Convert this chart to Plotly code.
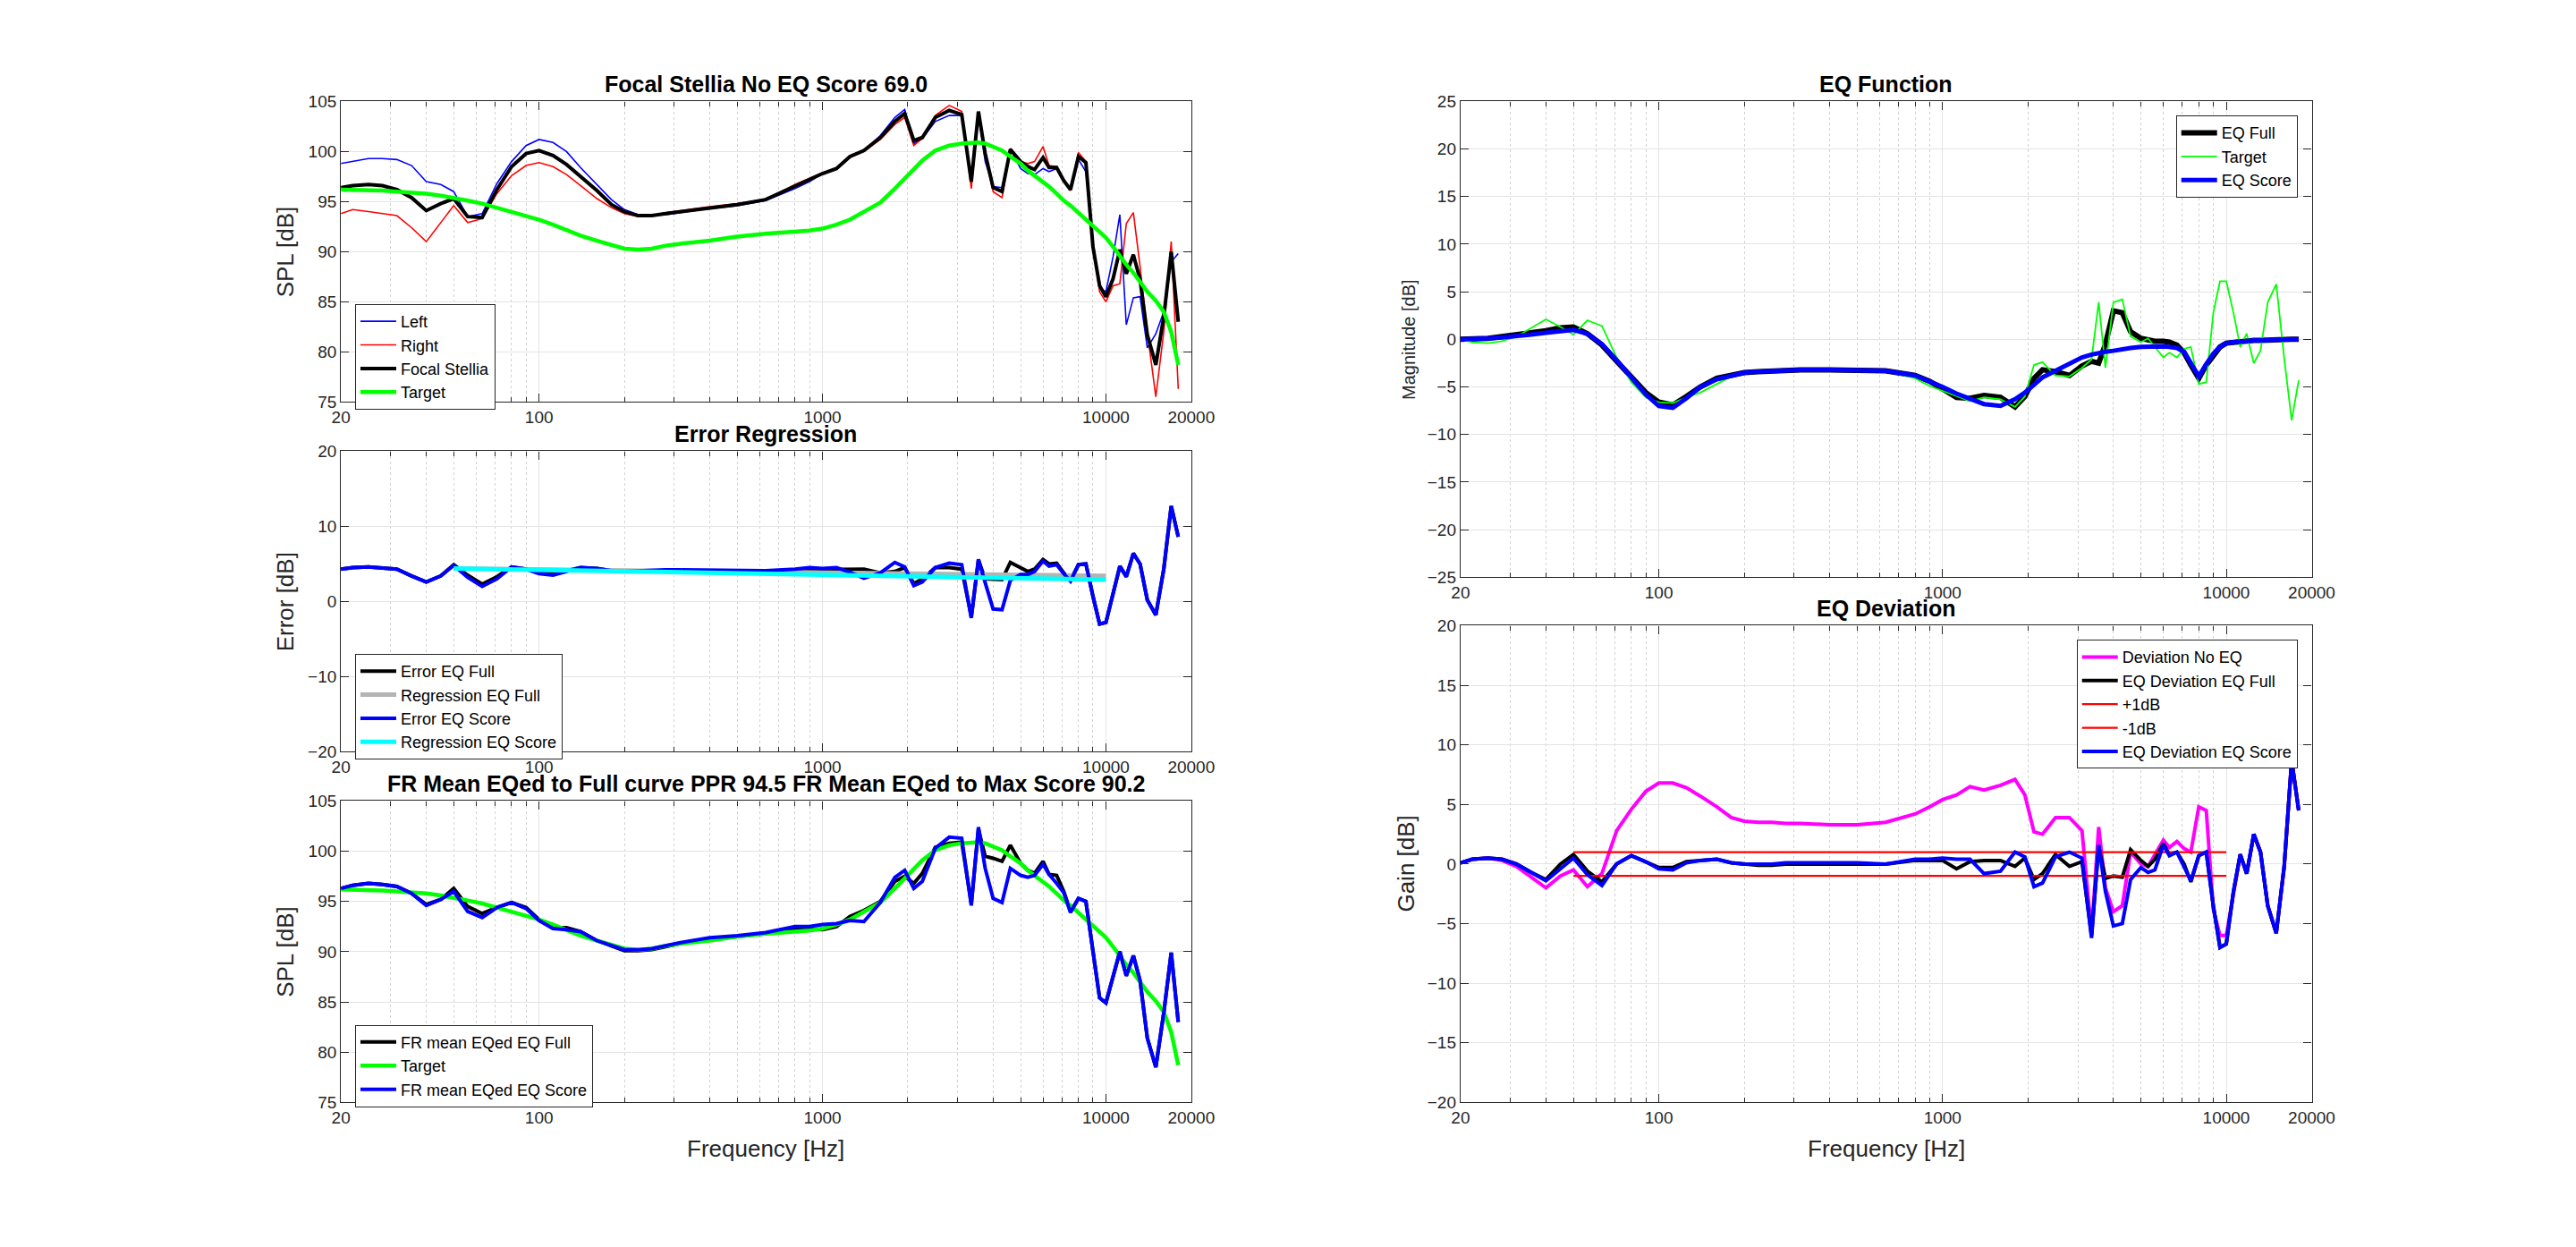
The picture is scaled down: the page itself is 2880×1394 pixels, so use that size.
import math
import plotly.graph_objects as go

# ---------------- data ----------------
FREQ = [20, 22, 25, 28, 31.5, 35.5, 40, 45, 50, 56,
        63, 71, 80, 90, 100, 112, 125, 140, 160, 180,
        200, 224, 250, 280, 315, 400, 500, 630, 800, 900,
        1000, 1120, 1250, 1400, 1600, 1800, 1950, 2100, 2250, 2500,
        2800, 3100, 3350, 3550, 3750, 4000, 4300, 4600, 5000, 5300,
        5600, 6000, 6300, 6700, 7100, 7500, 8000, 8500, 9000, 9500,
        10000, 10600, 11200, 11800, 12500, 13200, 14000, 15000, 16000, 17000,
        18000]

SPL_LEFT = [98.8, 99.0, 99.3, 99.3, 99.2, 98.6, 97.0, 96.7, 96.0, 93.5,
            93.8, 96.8, 99.0, 100.6, 101.2, 100.9, 100.0, 98.4, 96.7, 95.2,
            94.2, 93.7, 93.6, 93.7, 93.9, 94.3, 94.6, 95.1, 96.3, 97.0,
            97.8, 98.3, 99.4, 100.1, 101.6, 103.4, 104.2, 100.8, 101.3, 103.0,
            103.6, 103.6, 97.0, 103.8, 99.0, 96.5, 96.4, 100.3, 98.3, 97.8,
            97.7, 98.3, 98.0, 98.3, 97.0, 96.3, 99.2, 98.0, 91.0, 86.4,
            86.0, 89.5, 93.7, 82.7, 85.4, 85.5, 80.4, 81.8, 84.0, 89.0,
            89.8]

SPL_RIGHT = [93.8, 94.2, 94.0, 93.8, 93.6, 92.4, 91.0, 92.9, 94.6, 92.9,
             93.3, 95.8, 97.6, 98.6, 98.9, 98.5, 97.7, 96.6, 95.3, 94.4,
             93.8, 93.5, 93.6, 93.9, 94.1, 94.5, 94.8, 95.2, 96.7, 97.3,
             97.9, 98.3, 99.4, 100.0, 101.2, 102.7, 103.4, 100.6, 101.3, 103.6,
             104.6, 104.0, 96.3, 103.6, 99.5, 96.0, 95.4, 100.3, 99.0, 98.8,
             99.0, 100.5, 98.6, 98.5, 97.3, 96.1, 99.9, 99.0, 90.5, 86.0,
             85.0, 86.6, 86.8, 92.8, 93.9, 88.5, 82.0, 75.5, 82.0, 91.0,
             76.3]

SPL_MEAN = [96.4, 96.6, 96.7, 96.6, 96.2, 95.4, 94.1, 94.8, 95.3, 93.5,
            93.4, 96.2, 98.5, 99.8, 100.1, 99.6, 98.7, 97.5, 96.1, 94.7,
            94.0, 93.6, 93.6, 93.8, 94.0, 94.4, 94.7, 95.2, 96.5, 97.2,
            97.8, 98.3, 99.5, 100.1, 101.4, 103.0, 103.8, 101.1, 101.4, 103.4,
            104.1, 103.7, 97.0, 104.0, 99.8, 96.4, 96.0, 100.2, 99.0, 98.5,
            98.2, 99.4, 98.4, 98.4, 97.1, 96.2, 99.5, 98.9, 90.5, 86.6,
            85.5, 87.3, 90.2, 87.8, 89.7, 87.2, 81.7, 78.7, 83.5, 90.0,
            83.0]

TARGET = [96.2, 96.2, 96.2, 96.1, 96.0, 95.9, 95.8, 95.6, 95.4, 95.1,
          94.8, 94.4, 94.0, 93.6, 93.2, 92.7, 92.2, 91.6, 91.1, 90.7,
          90.3, 90.2, 90.3, 90.6, 90.8, 91.1, 91.5, 91.8, 92.0, 92.1,
          92.3, 92.7, 93.2, 94.0, 94.9, 96.3, 97.3, 98.3, 99.1, 100.1,
          100.6, 100.8, 100.9, 100.9, 100.8, 100.5, 100.1, 99.5, 98.8, 98.1,
          97.6, 97.0, 96.5, 95.8, 95.1, 94.6, 93.9, 93.2, 92.6, 92.0,
          91.4, 90.5, 89.5, 88.7, 87.9, 86.9, 86.0, 85.1, 84.0, 82.0,
          78.7]

ERR_FULL = [4.3, 4.5, 4.6, 4.5, 4.3, 3.4, 2.6, 3.4, 4.9, 3.5,
            2.3, 3.3, 4.6, 4.3, 3.9, 3.7, 4.1, 4.5, 4.4, 4.1,
            4.0, 4.0, 4.0, 4.1, 4.1, 4.1, 4.1, 4.0, 4.2, 4.2,
            4.2, 4.2, 4.2, 4.3, 3.8, 4.0, 4.5, 2.4, 3.0, 4.5,
            4.5, 4.3, -2.0, 5.5, 3.0, 2.9, 2.9, 5.2, 4.5, 4.0,
            4.3, 5.6, 5.0, 5.1, 3.8, 2.8, 4.9, 5.0, 0.7, -3.0,
            -2.8, 1.1, 4.7, 3.3, 6.4, 5.0, 0.2, -1.8, 4.3, 12.7,
            8.6]

ERR_SCORE = [4.3, 4.5, 4.6, 4.5, 4.3, 3.4, 2.6, 3.4, 4.8, 3.2,
             2.0, 3.0, 4.6, 4.3, 3.7, 3.5, 4.0, 4.5, 4.4, 4.1,
             4.0, 4.1, 4.1, 4.2, 4.2, 4.2, 4.2, 4.1, 4.3, 4.5,
             4.4, 4.5, 3.9, 3.1, 3.8, 5.2, 4.6, 2.1, 2.6, 4.5,
             5.1, 4.9, -2.2, 5.6, 2.5, -1.0, -1.1, 2.8, 3.6, 3.6,
             4.0, 5.4, 4.7, 4.9, 3.7, 2.7, 4.9, 5.0, 0.7, -3.0,
             -2.8, 1.1, 4.7, 3.3, 6.4, 5.0, 0.2, -1.8, 4.3, 12.7,
             8.6]

REG_FREQ = [50, 10000]
REG_FULL = [4.4, 3.4]
REG_SCORE = [4.4, 2.9]

FR_EQ_FULL = [96.3, 96.6, 96.8, 96.7, 96.5, 95.8, 94.7, 95.2, 96.3, 94.5,
              93.8, 94.4, 94.9, 94.4, 93.2, 92.4, 92.4, 92.0, 91.1, 90.6,
              90.1, 90.1, 90.2, 90.5, 90.8, 91.3, 91.5, 91.8, 92.3, 92.3,
              92.2, 92.5, 93.5, 94.1, 95.0, 97.0, 97.5, 96.8, 97.8, 100.4,
              100.8, 100.9, 94.8, 102.2, 99.5, 99.3, 99.0, 100.6, 98.8, 98.1,
              97.8, 99.0, 97.7, 97.6, 96.0, 94.0, 95.3, 95.0, 90.2, 85.4,
              84.9, 87.4, 90.0, 87.6, 89.6, 87.1, 81.4, 78.5, 83.9, 89.9,
              83.0]

FR_EQ_SCORE = [96.3, 96.6, 96.8, 96.7, 96.5, 95.8, 94.6, 95.2, 96.0, 94.0,
               93.4, 94.4, 94.9, 94.3, 93.1, 92.3, 92.2, 92.0, 91.1, 90.6,
               90.2, 90.2, 90.3, 90.6, 90.9, 91.4, 91.6, 91.9, 92.5, 92.5,
               92.7, 92.8, 93.1, 93.0, 94.9, 97.4, 98.1, 96.3, 97.0, 100.3,
               101.4, 101.3, 94.6, 102.4, 98.3, 95.3, 94.9, 98.3, 97.6, 97.4,
               97.6, 98.7, 97.7, 96.8, 95.9, 93.9, 95.3, 95.0, 90.2, 85.4,
               84.9, 87.4, 90.0, 87.6, 89.6, 87.1, 81.4, 78.5, 83.9, 89.9,
               83.0]

EQ_FULL = [0.0, 0.0, 0.1, 0.3, 0.5, 0.6, 0.9, 1.2, 1.3, 0.6,
           -0.6, -2.3, -3.9, -5.6, -6.6, -6.9, -6.0, -5.0, -4.1, -3.8,
           -3.5, -3.4, -3.3, -3.2, -3.2, -3.2, -3.2, -3.3, -3.8, -4.4,
           -5.2, -6.1, -6.2, -5.9, -6.1, -7.1, -6.0, -4.1, -3.2, -3.4,
           -3.8, -2.8, -2.3, -2.5, -0.5, 3.0, 2.8, 0.8, 0.1, -0.1,
           -0.2, -0.2, -0.3, -0.6, -1.4, -2.7, -4.1, -2.7, -1.6, -0.8,
           -0.4, -0.3, -0.2, -0.15, -0.1, -0.1, -0.05, 0.0, 0.0, 0.0,
           0.0]

EQ_TARGET = [0.0, -0.3, -0.4, -0.2, 0.3, 1.2, 2.1, 1.3, 0.5, 2.0,
             1.4, -1.9, -4.5, -6.1, -6.6, -6.7, -6.1, -5.6, -4.7, -3.9,
             -3.6, -3.4, -3.3, -3.2, -3.2, -3.2, -3.2, -3.3, -4.1, -4.9,
             -5.4, -6.0, -6.5, -6.1, -6.3, -7.1, -6.0, -2.7, -2.4, -3.8,
             -3.9, -3.0, -2.1, 3.9, -3.0, 3.9, 4.2, 0.3, -0.3, 0.1,
             -0.8, -1.9, -1.4, -1.9, -1.0, -0.8, -4.7, -4.5, 2.8, 6.1,
             6.1, 2.8, -0.8, 0.6, -2.5, -1.2, 3.9, 5.8, -2.0, -8.5,
             -4.3]

EQ_SCORE = [0.0, 0.0, 0.1, 0.2, 0.3, 0.5, 0.7, 0.9, 1.0, 0.6,
            -0.5, -2.2, -4.0, -5.8, -7.0, -7.2, -6.2, -5.0, -4.2, -3.8,
            -3.5, -3.4, -3.3, -3.2, -3.2, -3.2, -3.2, -3.3, -3.8, -4.4,
            -5.0, -5.7, -6.3, -6.8, -7.0, -6.3, -5.6, -4.7, -4.0, -3.3,
            -2.6, -1.9, -1.6, -1.4, -1.3, -1.2, -1.0, -0.9, -0.8, -0.75,
            -0.75, -0.75, -0.8, -0.9, -1.3, -2.4, -3.9, -2.6, -1.5, -0.8,
            -0.4, -0.3, -0.2, -0.15, -0.1, -0.1, -0.05, 0.0, 0.0, 0.0,
            0.0]

DEV_NO_EQ = [0.1, 0.4, 0.5, 0.3, -0.2, -1.1, -2.0, -1.0, -0.5, -1.9,
             -0.8, 2.8, 4.6, 6.1, 6.8, 6.8, 6.4, 5.7, 4.8, 3.9,
             3.6, 3.5, 3.5, 3.4, 3.4, 3.3, 3.3, 3.5, 4.2, 4.8,
             5.4, 5.8, 6.5, 6.2, 6.6, 7.1, 5.8, 2.7, 2.5, 3.9,
             3.9, 2.8, -5.8, 3.1, -2.0, -4.0, -3.5, 1.0, 0.0, -0.2,
             0.8, 2.0, 1.4, 1.9, 1.3, 1.0, 4.8, 4.5, -3.8, -6.0,
             -6.0, -2.3, 0.8, -0.8, 2.5, 1.0, -3.5, -5.8, -0.2, 8.7,
             4.5]

DEV_FULL = [0.1, 0.4, 0.5, 0.4, 0.0, -0.7, -1.3, 0.0, 0.8, -0.6,
            -1.5, 0.0, 0.7, 0.2, -0.3, -0.3, 0.2, 0.3, 0.4, 0.1,
            0.0, -0.1, -0.1, 0.0, 0.0, 0.0, 0.0, 0.0, 0.3, 0.3,
            0.3, -0.4, 0.2, 0.3, 0.3, -0.2, 0.5, -1.3, -0.8, 0.8,
            -0.2, 0.2, -6.0, 1.5, -1.2, -1.0, -1.1, 1.2, 0.3, -0.2,
            0.4, 1.7, 0.8, 1.0, 0.0, -1.5, 0.7, 1.0, -3.5, -7.0,
            -6.7, -2.3, 0.8, -0.8, 2.5, 1.0, -3.5, -5.8, -0.2, 8.7,
            4.5]

DEV_SCORE = [0.1, 0.4, 0.5, 0.4, 0.0, -0.7, -1.4, -0.4, 0.5, -0.9,
             -1.8, 0.0, 0.7, 0.2, -0.4, -0.5, 0.1, 0.3, 0.4, 0.1,
             0.0, 0.0, 0.0, 0.1, 0.1, 0.1, 0.1, 0.0, 0.4, 0.4,
             0.5, 0.4, 0.4, -0.8, -0.6, 1.0, 0.6, -1.9, -1.6, 0.6,
             1.0, 0.5, -6.2, 1.6, -2.3, -5.2, -5.0, -1.3, -0.3, -0.7,
             -0.5, 1.6, 0.7, 1.0, -0.3, -1.4, 0.7, 1.0, -3.5, -7.0,
             -6.7, -2.3, 0.8, -0.8, 2.5, 1.0, -3.5, -5.8, -0.2, 8.7,
             4.5]

LIMIT_FREQ = [50, 10000]
PLUS_1DB = [1, 1]
MINUS_1DB = [-1, -1]

X_TICKS = [20, 100, 1000, 10000, 20000]
X_TICK_TEXT = ["20", "100", "1000", "10000", "20000"]
X_MINOR = [30, 40, 50, 60, 70, 80, 90, 200, 300, 400, 500, 600, 700, 800, 900,
           2000, 3000, 4000, 5000, 6000, 7000, 8000, 9000]

# ---------------- layout geometry (pixels) ----------------
W, H = 2880, 1394
LX0, LX1 = 375, 1338
RX0, RX1 = 1643, 2607
ROWS = {
    1: (LX0, LX1, 105, 446),
    2: (LX0, LX1, 502, 843),
    3: (LX0, LX1, 899, 1241),
    4: (RX0, RX1, 105, 645),
    5: (RX0, RX1, 700, 1241),
}


def xdom(a, b):
    return [a / W, b / W]


def ydom(top, bot):
    return [1 - bot / H, 1 - top / H]


FONT = "Liberation Sans, Arial, Helvetica, sans-serif"
AX = "#262626"
BLUE, RED, GREEN, BLACK = "#0000ff", "#ff0000", "#00ff00", "#000000"

fig = go.Figure()


def add(i, x, y, name, color, width, legend):
    fig.add_trace(go.Scatter(
        x=x, y=y, name=name, mode="lines",
        line=dict(color=color, width=width),
        xaxis="x" if i == 1 else f"x{i}",
        yaxis="y" if i == 1 else f"y{i}",
        legend=legend,
    ))


# Panel 1
add(1, FREQ, SPL_LEFT, "Left", BLUE, 1.6, "legend")
add(1, FREQ, SPL_RIGHT, "Right", RED, 1.6, "legend")
add(1, FREQ, SPL_MEAN, "Focal Stellia", BLACK, 4, "legend")
add(1, FREQ, TARGET, "Target", GREEN, 4.5, "legend")
# Panel 2
add(2, FREQ, ERR_FULL, "Error EQ Full", BLACK, 4, "legend2")
add(2, REG_FREQ, REG_FULL, "Regression EQ Full", "#b4b4b4", 5, "legend2")
add(2, FREQ, ERR_SCORE, "Error EQ Score", BLUE, 4, "legend2")
add(2, REG_FREQ, REG_SCORE, "Regression EQ Score", "#00ffff", 5, "legend2")
# Panel 3
add(3, FREQ, FR_EQ_FULL, "FR mean EQed EQ Full", BLACK, 4, "legend3")
add(3, FREQ, TARGET, "Target", GREEN, 4.5, "legend3")
add(3, FREQ, FR_EQ_SCORE, "FR mean EQed EQ Score", BLUE, 4, "legend3")
# Panel 4
add(4, FREQ, EQ_FULL, "EQ Full", BLACK, 6, "legend4")
add(4, FREQ, EQ_TARGET, "Target", GREEN, 1.8, "legend4")
add(4, FREQ, EQ_SCORE, "EQ Score", BLUE, 5, "legend4")
# Panel 5
add(5, FREQ, DEV_NO_EQ, "Deviation No EQ", "#ff00ff", 4, "legend5")
add(5, FREQ, DEV_FULL, "EQ Deviation EQ Full", BLACK, 4, "legend5")
add(5, LIMIT_FREQ, PLUS_1DB, "+1dB", RED, 2.2, "legend5")
add(5, LIMIT_FREQ, MINUS_1DB, "-1dB", RED, 2.2, "legend5")
add(5, FREQ, DEV_SCORE, "EQ Deviation EQ Score", BLUE, 4, "legend5")

YR = {1: (75, 105, 5), 2: (-20, 20, 10), 3: (75, 105, 5), 4: (-25, 25, 5), 5: (-20, 20, 5)}

layout = dict(
    width=W, height=H, autosize=False,
    margin=dict(l=0, r=0, t=0, b=0),
    paper_bgcolor="white", plot_bgcolor="white",
    font=dict(family=FONT, color=AX),
    showlegend=True,
)

for i, (x0, x1, top, bot) in ROWS.items():
    sx = "" if i == 1 else str(i)
    lo, hi, dt = YR[i]
    layout[f"xaxis{sx}"] = dict(
        type="log", range=[math.log10(20), math.log10(20000)],
        domain=xdom(x0, x1), anchor=f"y{sx}",
        tickmode="array", tickvals=X_TICKS, ticktext=X_TICK_TEXT,
        ticks="inside", ticklen=9, tickcolor=AX, tickwidth=1,
        showline=True, linecolor=AX, linewidth=1.2, mirror="ticks",
        showgrid=True, gridcolor="#e4e4e4", gridwidth=1, zeroline=False,
        tickfont=dict(family=FONT, size=19, color=AX),
        minor=dict(tickvals=X_MINOR, ticks="inside", ticklen=5, tickcolor=AX,
                   showgrid=True, gridcolor="#d2d2d2", griddash="dot", gridwidth=1),
        fixedrange=True,
    )
    layout[f"yaxis{sx}"] = dict(
        range=[lo, hi], domain=ydom(top, bot), anchor=f"x{sx}",
        tickmode="linear", tick0=lo, dtick=dt,
        ticks="inside", ticklen=9, tickcolor=AX, tickwidth=1,
        showline=True, linecolor=AX, linewidth=1.2, mirror="ticks",
        showgrid=True, gridcolor="#e4e4e4", gridwidth=1, zeroline=False,
        tickfont=dict(family=FONT, size=19, color=AX),
        fixedrange=True,
    )

legend_common = dict(bgcolor="white", bordercolor=AX, borderwidth=1,
                     font=dict(family=FONT, size=18, color="#000000"),
                     tracegroupgap=0, itemwidth=40)
layout["legend"] = dict(x=391 / W, y=1 - 335 / H, xanchor="left", yanchor="top", **legend_common)
layout["legend2"] = dict(x=391 / W, y=1 - 732 / H, xanchor="left", yanchor="top", **legend_common)
layout["legend3"] = dict(x=391 / W, y=1 - 1153 / H, xanchor="left", yanchor="top", **legend_common)
layout["legend4"] = dict(x=2591 / W, y=1 - 121 / H, xanchor="right", yanchor="top", **legend_common)
layout["legend5"] = dict(x=2591 / W, y=1 - 716 / H, xanchor="right", yanchor="top", **legend_common)

TITLES = {
    1: "Focal Stellia No EQ Score 69.0",
    2: "Error Regression",
    3: "FR Mean EQed to Full curve PPR 94.5 FR Mean EQed to Max Score 90.2",
    4: "EQ Function",
    5: "EQ Deviation",
}
YLABELS = {1: ("SPL [dB]", 26, 312), 2: ("Error [dB]", 26, 312), 3: ("SPL [dB]", 26, 312),
           4: ("Magnitude [dB]", 20, 1585), 5: ("Gain [dB]", 26, 1581)}

ann = []
for i, (x0, x1, top, bot) in ROWS.items():
    cx = (x0 + x1) / 2 / W
    ann.append(dict(text=f"<b>{TITLES[i]}</b>", x=cx, y=1 - (top - 20) / H,
                    xref="paper", yref="paper", xanchor="center", yanchor="middle",
                    showarrow=False, font=dict(family=FONT, size=25, color="#000000")))
    lab, fs, lx = YLABELS[i]
    ann.append(dict(text=lab, x=lx / W, y=1 - (top + bot) / 2 / H, textangle=-90,
                    xref="paper", yref="paper", xanchor="center", yanchor="middle",
                    showarrow=False, font=dict(family=FONT, size=fs, color=AX)))
for i in (3, 5):
    x0, x1, top, bot = ROWS[i]
    ann.append(dict(text="Frequency [Hz]", x=(x0 + x1) / 2 / W, y=1 - 1293 / H,
                    xref="paper", yref="paper", xanchor="center", yanchor="middle",
                    showarrow=False, font=dict(family=FONT, size=26, color=AX)))
layout["annotations"] = ann

fig.update_layout(**layout)
fig.write_html("out.html", config={"displayModeBar": False},
               post_script="document.body.style.margin='0';document.body.style.overflow='hidden';")
